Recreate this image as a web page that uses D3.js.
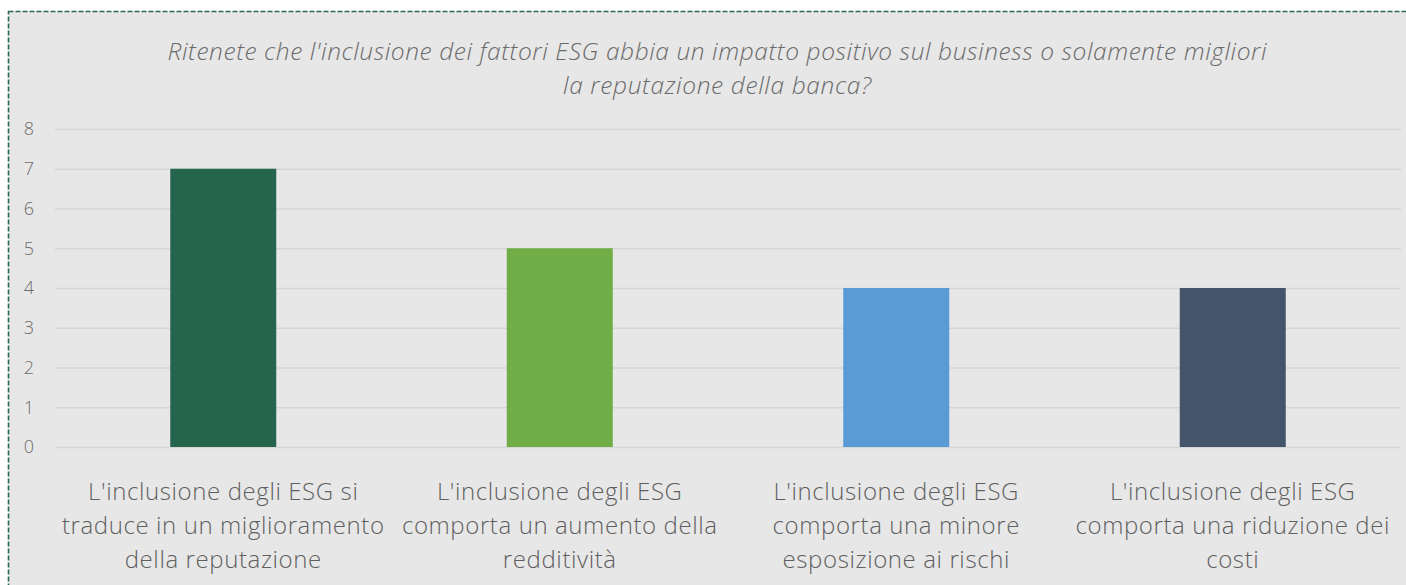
<!DOCTYPE html>
<html>
<head>
<meta charset="utf-8">
<script src="https://cdn.jsdelivr.net/npm/d3@7"></script>
<style>
  body { margin: 0; background: #fff; }
  text { font-family: "Open Sans", "Segoe UI", sans-serif; }
</style>
</head>
<body>
<svg width="1406" height="585"></svg>
<script>
let titleLines = [
    "Ritenete che l'inclusione dei fattori ESG abbia un impatto positivo sul business o solamente migliori",
    "la reputazione della banca?"
]
let categories = [
    ["L'inclusione degli ESG si", "traduce in un miglioramento", "della reputazione"],
    ["L'inclusione degli ESG", "comporta un aumento della", "redditività"],
    ["L'inclusione degli ESG", "comporta una minore", "esposizione ai rischi"],
    ["L'inclusione degli ESG", "comporta una riduzione dei", "costi"]
]
let values = [7, 5, 4, 4]
let yTicks = [0, 1, 2, 3, 4, 5, 6, 7, 8]
let colors = ['#26654D', '#70AD47', '#5B9BD5', '#44546A']

let svg = d3.select('svg')

// panel + dashed border
svg.append('rect')
    .attr('x', 8.5).attr('y', 11.5)
    .attr('width', 1400).attr('height', 600)
    .attr('fill', '#e7e7e7')
    .attr('stroke', '#2a6a4c')
    .attr('stroke-width', 1.6)
    .attr('stroke-dasharray', '5,2')

let plotL = 55, plotR = 1401, plotT = 129, plotB = 447

let x = d3.scaleBand()
    .domain(d3.range(categories.length))
    .range([plotL, plotR])
    .paddingInner(0.685)
    .paddingOuter(0.3425)

let y = d3.scaleLinear().domain([0, 8]).range([plotB, plotT])

// gridlines
svg.append('g').selectAll('line')
    .data(yTicks)
    .enter()
    .append('line')
    .attr('x1', plotL).attr('x2', plotR)
    .attr('y1', d => y(d) + 0.5).attr('y2', d => y(d) + 0.5)
    .attr('stroke', '#d6d6d6')
    .attr('stroke-width', 1.5)

// y tick labels
svg.append('g').selectAll('text')
    .data(yTicks)
    .enter()
    .append('text')
    .text(d => d)
    .attr('x', 29)
    .attr('y', d => y(d))
    .attr('dy', '0.35em')
    .attr('text-anchor', 'middle')
    .attr('fill', '#6b6b6b')
    .attr('font-size', 18)
    .attr('font-weight', 300)

// bars
svg.append('g').selectAll('rect')
    .data(values)
    .enter()
    .append('rect')
    .attr('x', (d, i) => x(i))
    .attr('y', d => y(d))
    .attr('width', x.bandwidth())
    .attr('height', d => y(0) - y(d))
    .attr('fill', (d, i) => colors[i])

// category labels
let cat = svg.append('g').selectAll('text')
    .data(categories)
    .enter()
    .append('text')
    .attr('text-anchor', 'middle')
    .attr('fill', '#5f5f5f')
    .attr('font-size', 24)
    .attr('font-weight', 300)
    .attr('letter-spacing', 0.6)

cat.selectAll('tspan')
    .data((d, i) => d.map(t => ({ t: t, i: i })))
    .enter()
    .append('tspan')
    .attr('x', d => x(d.i) + x.bandwidth() / 2)
    .attr('y', (d, j) => 500 + j * 34)
    .text(d => d.t)

// title
let titleLen = [1099, 308]
svg.append('g').selectAll('text')
    .data(titleLines)
    .enter()
    .append('text')
    .text(d => d)
    .attr('x', 717)
    .attr('y', (d, i) => 60 + i * 34)
    .attr('text-anchor', 'middle')
    .attr('textLength', (d, i) => titleLen[i])
    .attr('lengthAdjust', 'spacing')
    .attr('font-style', 'italic')
    .attr('font-weight', 300)
    .attr('font-size', 24.5)
    .attr('fill', '#6b6b6b')
</script>
</body>
</html>
